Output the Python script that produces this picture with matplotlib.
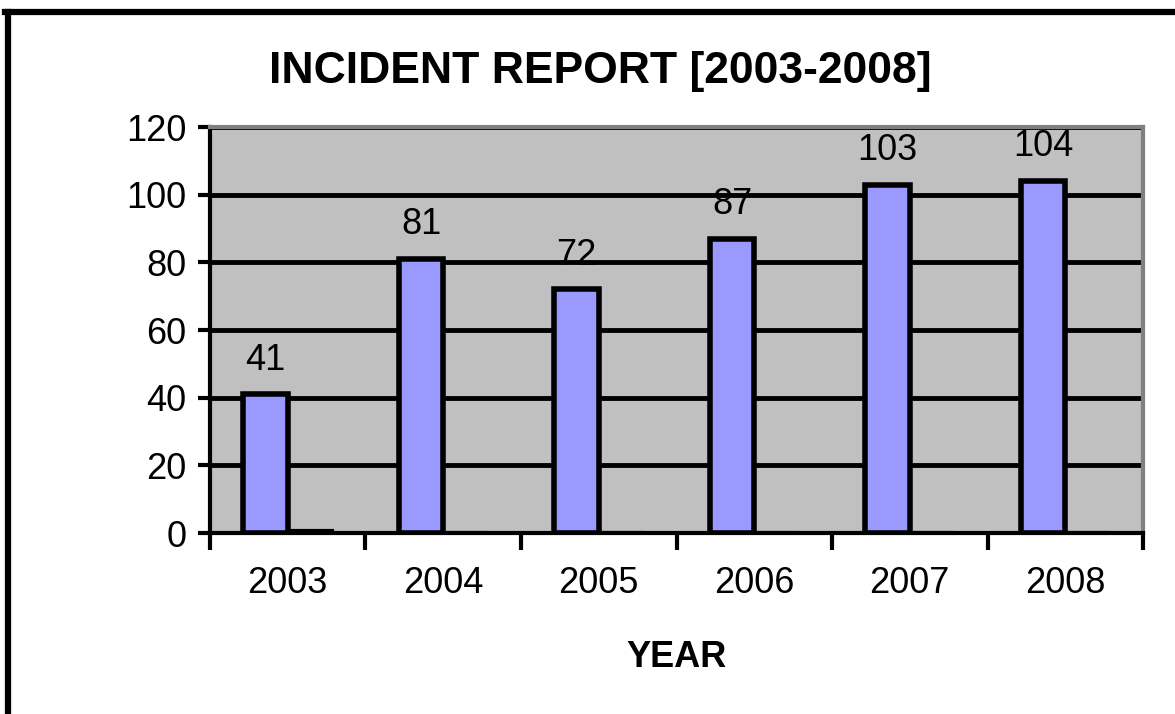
import matplotlib
matplotlib.use("Agg")
from matplotlib import pyplot as plt
import numpy as np

plt.rcParams['font.family'] = ['Liberation Sans', 'DejaVu Sans']

# data
years = ['2003', '2004', '2005', '2006', '2007', '2008']
incidents = [41, 81, 72, 87, 103, 104]
# the second (nearly empty) series that leaves the gap next to each bar
other = [0.6, 0, 0, 0, 0, 0]
y_ticks = [0, 20, 40, 60, 80, 100, 120]

fig = plt.figure(figsize=(11.75, 7.14), dpi=100)
ax = fig.add_axes([0.1787, 0.2535, 0.9728 - 0.1787, 0.8221 - 0.2535])

x = np.arange(len(years))
w = 0.286
ax.set_facecolor('#c0c0c0')
ax.set_axisbelow(True)
ax.yaxis.grid(True, color='black', linewidth=3.5)

bars = ax.bar(x - w / 2, incidents, width=w, color='#9999ff',
              edgecolor='black', linewidth=4, zorder=3)
ax.bar(x + w / 2, other, width=w, color='#9999ff',
       edgecolor='black', linewidth=3, zorder=3)

for b, v in zip(bars, incidents):
    ax.annotate(str(v), (b.get_x() + b.get_width() / 2, v),
                xytext=(0, 12), textcoords='offset points',
                ha='center', va='bottom', fontsize=26)

ax.set_xlim(-0.5, len(years) - 0.5)
ax.set_ylim(0, 120)
ax.set_yticks(y_ticks)
ax.tick_params(axis='y', labelsize=26, length=9, width=3, direction='out', pad=8)

# category boundaries carry the ticks, labels sit in the middle
ax.set_xticks(np.arange(len(years) + 1) - 0.5)
ax.set_xticklabels([])
ax.set_xticks(x, minor=True)
ax.set_xticklabels(years, minor=True)
ax.tick_params(axis='x', which='major', length=12, width=3, direction='out')
ax.tick_params(axis='x', which='minor', length=0, labelsize=26, pad=24)

for s in ['left', 'bottom']:
    ax.spines[s].set_color('black')
    ax.spines[s].set_linewidth(3)
for s in ['top', 'right']:
    ax.spines[s].set_color('#808080')
    ax.spines[s].set_linewidth(3)

ax.set_xlabel('YEAR', fontsize=26, fontweight='bold', labelpad=28)
fig.text(0.511, 0.900, 'INCIDENT REPORT [2003-2008]', ha='center', va='center',
         fontsize=32, fontweight='bold')

# black frame on the left and top of the picture
fig.add_artist(plt.Line2D([0.0064, 0.0064], [0, 0.983], color='black',
                          linewidth=4.5, transform=fig.transFigure))
fig.add_artist(plt.Line2D([0.0045, 1], [0.983, 0.983], color='black',
                          linewidth=4.5, transform=fig.transFigure))

fig.savefig('out.png', dpi=100)
